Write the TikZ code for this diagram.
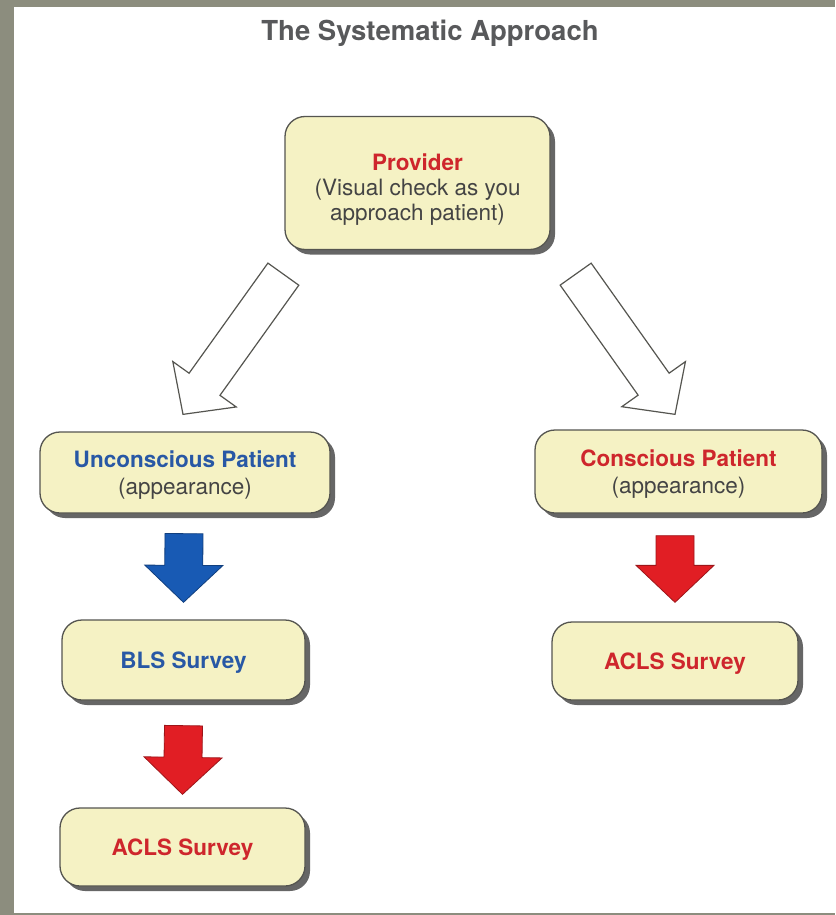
\documentclass[tikz,border=0pt]{standalone}
\usepackage{fontspec}
\setmainfont{TeX Gyre Heros}
\usepackage{tikz}
\usetikzlibrary{positioning,calc,shadows}

\definecolor{boxfill}{RGB}{245,242,196}
\definecolor{boxline}{RGB}{85,85,80}
\definecolor{textgrey}{RGB}{68,68,68}
\definecolor{titlegrey}{RGB}{88,89,91}
\definecolor{redtext}{RGB}{206,38,44}
\definecolor{bluetext}{RGB}{40,88,165}
\definecolor{redfill}{RGB}{225,30,36}
\definecolor{bluefill}{RGB}{24,90,180}
\definecolor{pageback}{RGB}{140,141,126}

% fat arrow: style, tail, tip
\newcommand{\fatarrow}[3]{%
  \draw[#1] ($(#2)!19pt!90:(#3)$) -- ($($(#3)!37pt!(#2)$)!19pt!90:(#3)$)
    -- ($($(#3)!37pt!(#2)$)!39pt!90:(#3)$) -- (#3)
    -- ($($(#3)!37pt!(#2)$)!39pt!-90:(#3)$) -- ($($(#3)!37pt!(#2)$)!19pt!-90:(#3)$)
    -- ($(#2)!19pt!-90:(#3)$) -- cycle;}

\begin{document}
\begin{tikzpicture}[x=1pt,y=1pt,
    box/.style={draw=boxline,line width=1.3pt,fill=boxfill,rounded corners=20pt,
      align=center,text=textgrey,inner sep=0pt,text depth=0pt,
      font=\fontsize{22.5}{27}\selectfont,
      drop shadow={shadow xshift=5pt,shadow yshift=-5pt,fill=black!75,opacity=0.8}},
    hollow/.style={draw=boxline,line width=1.2pt,fill=white,line join=miter},
    bluearr/.style={draw=bluefill!70!black,line width=0.8pt,fill=bluefill},
    redarr/.style={draw=redfill!70!black,line width=0.8pt,fill=redfill}]

  \useasboundingbox (0,0) rectangle (835,-915);
  \fill[pageback] (0,0) rectangle (835,-915);
  \fill[white] (14,-7) rectangle (835,-913);

  \node[font=\fontsize{27.5}{30}\selectfont\bfseries,text=titlegrey] (title) at (430,-33) {The Systematic Approach};

  \node[box,minimum width=265,minimum height=133] (prov) at (417.5,-183)
    {\rule{0pt}{25pt}\textcolor{redtext}{\textbf{Provider}}\\[-2pt](Visual check as you\\[-2pt]approach patient)};
  \node[box,minimum width=290,minimum height=81] (uncon) at (185,-472.5)
    {\textcolor{bluetext}{\textbf{Unconscious Patient}}\\(appearance)};
  \node[box,minimum width=287,minimum height=83] (cons) at (678.5,-471.5)
    {\textcolor{redtext}{\textbf{Conscious Patient}}\\(appearance)};
  \node[box,minimum width=243,minimum height=80] (bls) at (183.5,-660)
    {\textcolor{bluetext}{\textbf{BLS Survey}}};
  \node[box,minimum width=245,minimum height=78] (aclsL) at (182.5,-847)
    {\textcolor{redtext}{\textbf{ACLS Survey}}};
  \node[box,minimum width=246,minimum height=78] (aclsR) at (675,-661)
    {\textcolor{redtext}{\textbf{ACLS Survey}}};

  \coordinate (hl0) at ($(prov.south west)+(-1,-24)$);
  \coordinate (hl1) at ($(uncon.north)+(-2,17)$);
  \coordinate (hr0) at ($(prov.south east)+(25,-24)$);
  \coordinate (hr1) at ($(cons.north)+(-3.5,15)$);
  \coordinate (b0) at ($(uncon.south)+(-1,-20)$);
  \coordinate (b1) at ($(bls.north)+(0,17)$);
  \coordinate (r0) at ($(bls.south)+(0,-25)$);
  \coordinate (r1) at ($(aclsL.north)+(0,13)$);
  \coordinate (q0) at ($(cons.south)+(-3.5,-22)$);
  \coordinate (q1) at ($(aclsR.north)+(0,19)$);

  \fatarrow{hollow}{hl0}{hl1}
  \fatarrow{hollow}{hr0}{hr1}
  \fatarrow{bluearr}{b0}{b1}
  \fatarrow{redarr}{r0}{r1}
  \fatarrow{redarr}{q0}{q1}

\end{tikzpicture}
\end{document}
